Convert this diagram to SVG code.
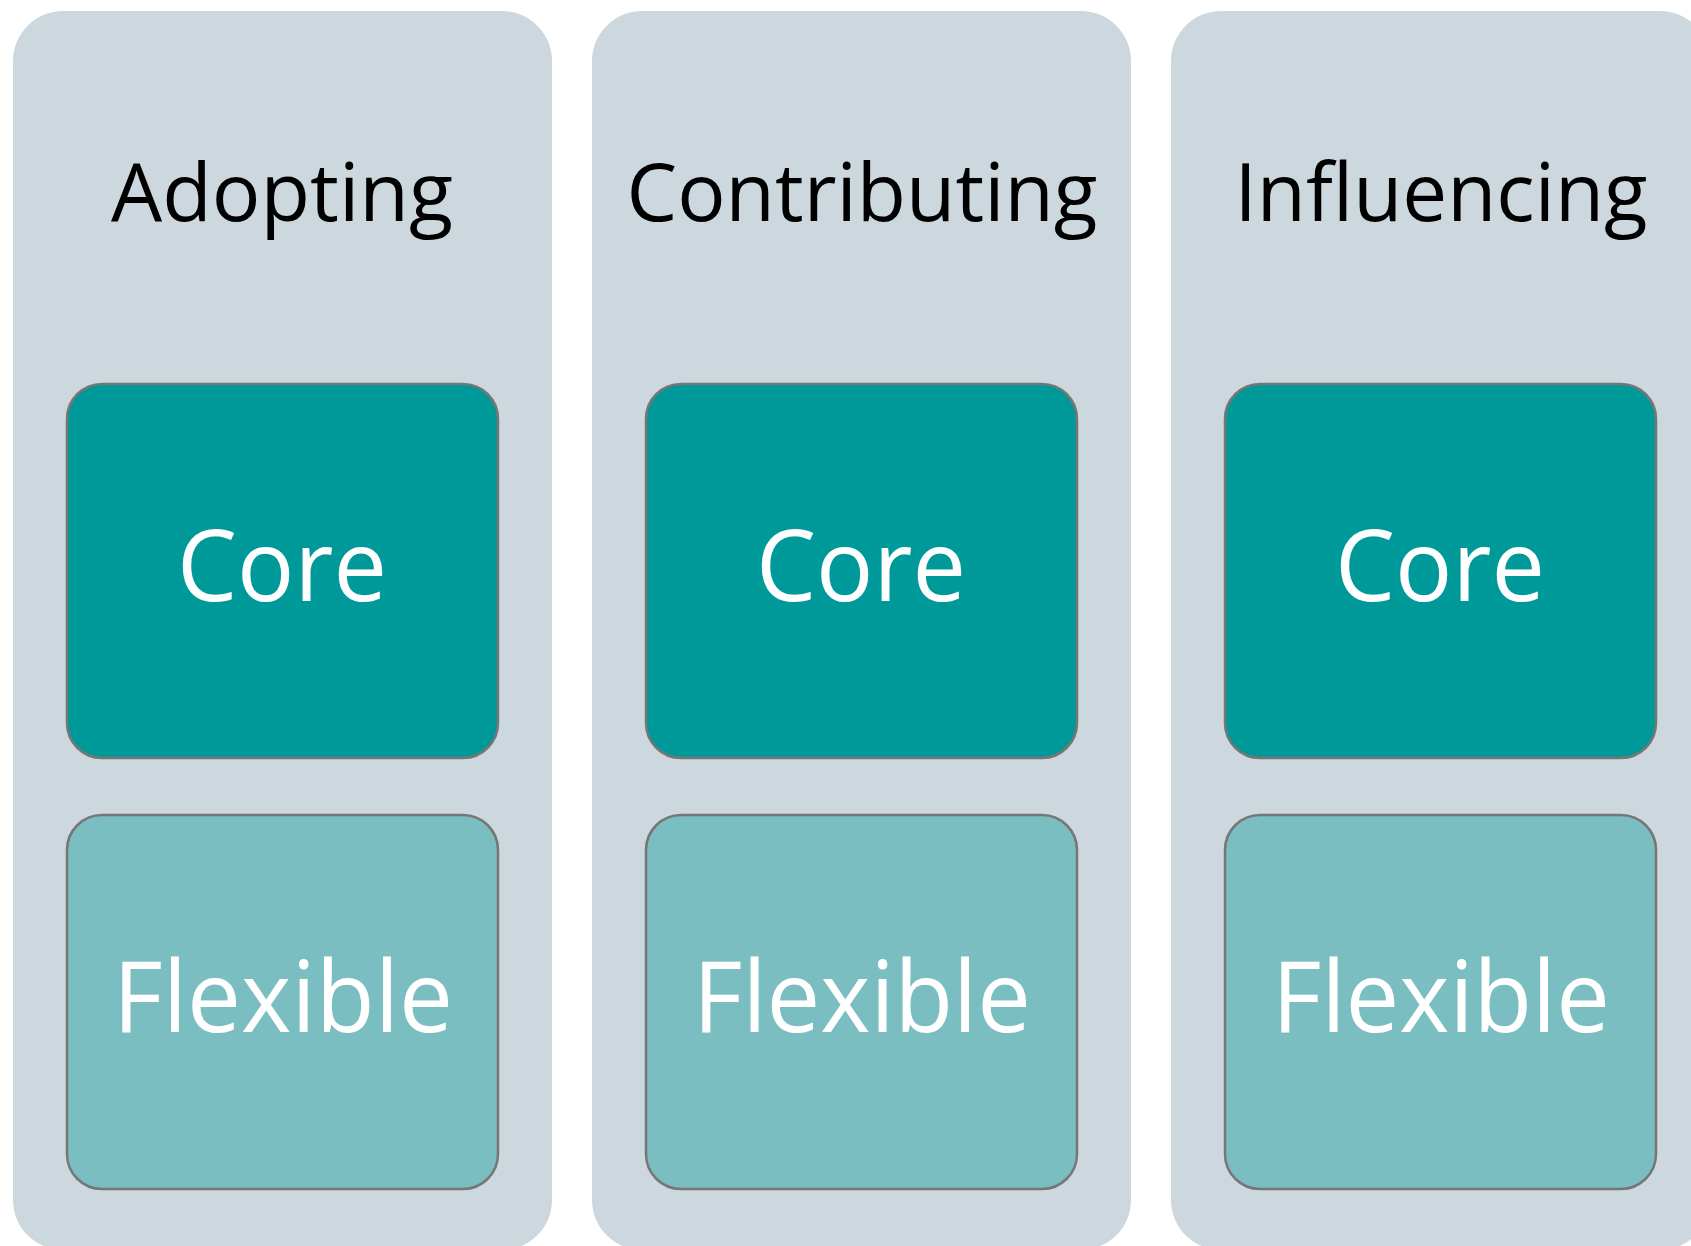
<svg xmlns="http://www.w3.org/2000/svg" width="1691" height="1246" viewBox="0 0 1691 1246">
  <style>
    .col { fill: #cdd8de; }
    .core { fill: #009999; stroke: #767676; stroke-width: 2.5; }
    .flex { fill: #7bbec1; stroke: #767676; stroke-width: 2.5; }
    .title { font-family: "Open Sans", "Noto Sans", sans-serif; font-size: 81px; fill: #000000; text-anchor: middle; }
    .label { font-family: "Open Sans", "Noto Sans", sans-serif; font-size: 98px; fill: #ffffff; text-anchor: middle; }
  </style>
  <rect width="1691" height="1246" fill="#ffffff"/>

  <!-- Column 1: Adopting -->
  <g id="adopting">
    <rect class="col" x="13" y="11" width="539" height="1239" rx="50" ry="50"/>
    <text class="title" x="282" y="221" textLength="342" lengthAdjust="spacingAndGlyphs">Adopting</text>
  </g>
  <g id="adopting-core">
    <rect class="core" x="67" y="384" width="431" height="374" rx="35" ry="35"/>
    <text class="label" x="282" y="601" textLength="210" lengthAdjust="spacingAndGlyphs">Core</text>
  </g>
  <g id="adopting-flexible">
    <rect class="flex" x="67" y="815" width="431" height="374" rx="35" ry="35"/>
    <text class="label" x="283" y="1032" textLength="340" lengthAdjust="spacingAndGlyphs">Flexible</text>
  </g>

  <!-- Column 2: Contributing -->
  <g id="contributing">
    <rect class="col" x="592" y="11" width="539" height="1239" rx="50" ry="50"/>
    <text class="title" x="862" y="221" textLength="471" lengthAdjust="spacingAndGlyphs">Contributing</text>
  </g>
  <g id="contributing-core">
    <rect class="core" x="646" y="384" width="431" height="374" rx="35" ry="35"/>
    <text class="label" x="861" y="601" textLength="210" lengthAdjust="spacingAndGlyphs">Core</text>
  </g>
  <g id="contributing-flexible">
    <rect class="flex" x="646" y="815" width="431" height="374" rx="35" ry="35"/>
    <text class="label" x="862" y="1032" textLength="338" lengthAdjust="spacingAndGlyphs">Flexible</text>
  </g>

  <!-- Column 3: Influencing -->
  <g id="influencing">
    <rect class="col" x="1171" y="11" width="539" height="1239" rx="50" ry="50"/>
    <text class="title" x="1441" y="221" textLength="413" lengthAdjust="spacingAndGlyphs">Influencing</text>
  </g>
  <g id="influencing-core">
    <rect class="core" x="1225" y="384" width="431" height="374" rx="35" ry="35"/>
    <text class="label" x="1440" y="601" textLength="210" lengthAdjust="spacingAndGlyphs">Core</text>
  </g>
  <g id="influencing-flexible">
    <rect class="flex" x="1225" y="815" width="431" height="374" rx="35" ry="35"/>
    <text class="label" x="1441" y="1032" textLength="338" lengthAdjust="spacingAndGlyphs">Flexible</text>
  </g>

  <!-- No connectors in this layout -->
  <g id="connectors"/>
</svg>
